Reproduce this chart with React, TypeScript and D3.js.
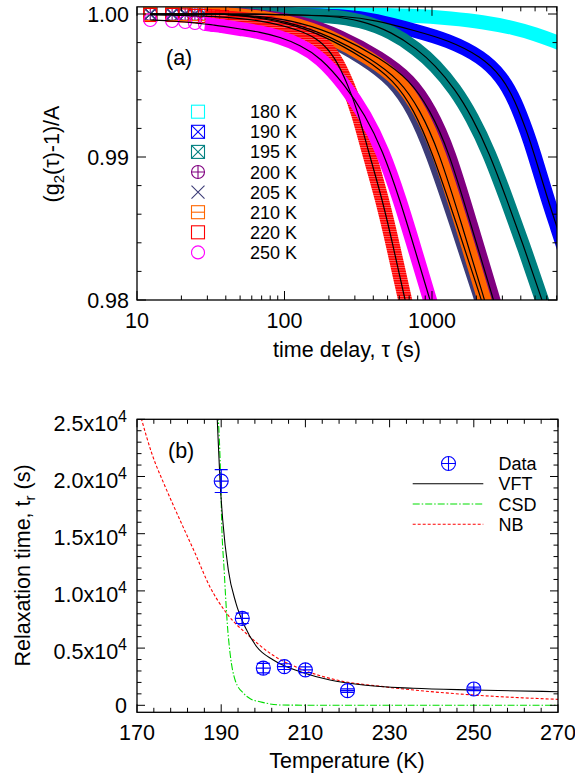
import * as d3 from 'd3';

const FONT = "'Liberation Sans', Arial, Helvetica, sans-serif";

// ---------- panel (a): normalised g2 decays ----------
const earlyTau = [12.3, 17.3, 21.2, 24.7, 28.9, 32.8, 37.7];

const tau180 = [...earlyTau, 127, 300, 767, 1367, 2173, 3654, 4992, 7040, 7974];
const g180 = [1, 1, 1, 1, 1, 1, 1, 1.0, 0.99998, 0.9999, 0.99969, 0.99946, 0.99902, 0.9986, 0.99804, 0.9978];

const tau190 = [...earlyTau, 58.4, 127.4, 257.2, 410.9, 767.2, 1284, 2173, 2969, 3654, 4476, 4838, 6115, 7040, 7974];
const g190 = [1, 1, 1, 1, 1, 1, 1, 1.0, 0.99993, 0.99986, 0.99958, 0.99883, 0.99818, 0.99701, 0.99562, 0.99399, 0.99154, 0.99049, 0.98699, 0.9851, 0.98336];

const tau195 = [...earlyTau, 58.4, 127.4, 203.5, 325, 535.6, 791.5, 1048, 1432, 1867, 2434, 3225, 4271, 5568, 6115];
const g195 = [1, 1, 1, 1, 1, 1, 1, 1.0, 0.99993, 0.99986, 0.99958, 0.99874, 0.99755, 0.99643, 0.99476, 0.9928, 0.99035, 0.98699, 0.9835, 0.98, 0.97874];

const tau200 = [...earlyTau, 68.2, 127.4, 237.8, 444.3, 709.4, 969.2, 1294, 1838, 2612, 2891];
const g200 = [1, 1, 1, 1, 1, 1, 1, 0.99986, 0.99944, 0.99846, 0.99692, 0.99538, 0.99329, 0.99049, 0.98524, 0.98, 0.97846];

const tau205 = [...earlyTau, 54.0, 100.8, 188.2, 345.9, 552.6, 755.1, 992.2, 1477, 2166, 2397];
const g205 = [1, 1, 1, 1, 1, 1, 1, 0.99986, 0.99944, 0.99846, 0.99692, 0.99538, 0.99329, 0.99049, 0.98524, 0.98, 0.97846];

const tau210 = [...earlyTau, 58.4, 109.0, 203.5, 379.9, 607, 829.4, 1107, 1597, 2269, 2552];
const g210 = [1, 1, 1, 1, 1, 1, 1, 0.99986, 0.99944, 0.99846, 0.99692, 0.99538, 0.99329, 0.99049, 0.98524, 0.98, 0.97825];

const tau220 = [...earlyTau, 68.2, 127.4, 174.1, 220.0, 269.5, 315.0, 368.3, 461.9, 552.6, 656.2, 709.4];
const g220 = [0.99993, 0.99993, 0.9999, 0.99986, 0.99986, 0.99983, 0.99979, 0.99958, 0.99888, 0.99818, 0.99699, 0.99503, 0.99315, 0.99049, 0.98699, 0.9835, 0.98, 0.9786];

const tau250 = [...earlyTau, 49.9, 68.2, 93.2, 127.4, 174.1, 257.2, 351.4, 461.9, 607, 767.2, 969.2, 1064];
const g250 = [0.99958, 0.99951, 0.99944, 0.99937, 0.9993, 0.99923, 0.99916, 0.99895, 0.99874, 0.99839, 0.99783, 0.99699, 0.99503, 0.99294, 0.99049, 0.98699, 0.9835, 0.98, 0.9786];

const seriesA = [
  { label: '180 K', color: '#00ffff', marker: 'square', tau: tau180, g: g180, fit: false },
  { label: '190 K', color: '#0000ff', marker: 'boxx', tau: tau190, g: g190, fit: true },
  { label: '195 K', color: '#008080', marker: 'boxx', tau: tau195, g: g195, fit: true },
  { label: '200 K', color: '#800080', marker: 'circplus', tau: tau200, g: g200, fit: true },
  { label: '205 K', color: '#3c3c78', marker: 'x', tau: tau205, g: g205, fit: true },
  { label: '210 K', color: '#ff6600', marker: 'boxh', tau: tau210, g: g210, fit: true },
  { label: '220 K', color: '#ff0000', marker: 'square', tau: tau220, g: g220, fit: true },
  { label: '250 K', color: '#ff00ff', marker: 'circle', tau: tau250, g: g250, fit: true },
];

const xTicksA = [10, 100, 1000];
const yTicksA = [0.98, 0.99, 1.0];

// ---------- panel (b): relaxation time vs temperature ----------
const tempData = [190, 195, 200, 205, 210, 220, 250];
const trData = [19600, 7600, 3250, 3380, 3100, 1280, 1430];
const trErr = [1000, 450, 420, 250, 250, 150, 150];

const vftT = [189.0, 189.07, 189.71, 190.36, 191.69, 193.5, 195.65, 198.43, 202.38, 209.5, 215.84, 223.75, 235.63, 250, 270];
const vftTr = [25500, 24940, 19700, 16200, 11830, 8940, 6870, 5120, 3960, 2850, 2210, 1770, 1490, 1340, 1190];

const csdT = [189.25, 189.88, 190.1, 190.7, 191.5, 192.1, 193.3, 195.3, 197, 199.2, 204, 215, 270];
const csdTr = [25500, 19700, 16200, 11830, 6870, 4570, 2210, 1050, 550, 315, 30, 0, 0];

const nbT = [171.0, 173.5, 176.7, 180.2, 183.8, 187.3, 191.3, 196.8, 201.6, 209.5, 217.4, 228.5, 249.9, 270];
const nbTr = [25100, 22030, 19110, 16200, 13290, 10370, 8040, 6000, 4550, 3090, 2210, 1630, 900, 520];

const xTicksB = [170, 190, 210, 230, 250, 270];
const yTicksB = [0, 5000, 10000, 15000, 20000, 25000];

// scales
const xA = d3.scaleLog().domain([10, 7040]).range([137, 557]);
const yA = d3.scaleLinear().domain([0.98, 1.0005]).range([300, 6.85]);
const xB = d3.scaleLinear().domain([170, 270]).range([137, 558]);
const yB = d3.scaleLinear().domain([-612, 25000]).range([712.3, 419.3]);

function Marker({ kind, x, y, color, s = 6.5 }: { kind: string; x: number; y: number; color: string; s?: number }) {
  const p = { stroke: color, strokeWidth: 1.1, fill: 'none' };
  const box = <rect x={x - s} y={y - s} width={2 * s} height={2 * s} {...p} />;
  switch (kind) {
    case 'square':
      return box;
    case 'boxx':
      return (
        <g>
          {box}
          <path d={`M${x - s},${y - s}L${x + s},${y + s}M${x - s},${y + s}L${x + s},${y - s}`} {...p} />
        </g>
      );
    case 'circplus':
      return (
        <g>
          <circle cx={x} cy={y} r={s} {...p} />
          <path d={`M${x - s},${y}H${x + s}M${x},${y - s}V${y + s}`} {...p} />
        </g>
      );
    case 'x':
      return <path d={`M${x - s},${y - s}L${x + s},${y + s}M${x - s},${y + s}L${x + s},${y - s}`} {...p} />;
    case 'boxh':
      return (
        <g>
          {box}
          <path d={`M${x - s},${y}H${x + s}`} {...p} />
        </g>
      );
    default:
      return <circle cx={x} cy={y} r={s} {...p} />;
  }
}

function TopPanel() {
  const [x0, x1] = xA.range();
  const [y0, y1] = yA.range();
  const line = d3
    .line<[number, number]>()
    .x((d) => xA(d[0]))
    .y((d) => yA(d[1]))
    .curve(d3.curveBasis);
  const minorX = xA.ticks().filter((t) => !xTicksA.includes(t));
  const minorY = d3.range(0, 11).map((i) => 0.98 + i * 0.002).filter((v) => v <= 1.0005);

  return (
    <g>
      <defs>
        <clipPath id="clipA">
          <rect x={x0} y={y1} width={x1 - x0} height={y0 - y1} />
        </clipPath>
        {/* dense open squares leave a faint hatch inside the red band */}
        <pattern id="redTex" patternUnits="userSpaceOnUse" width={4} height={2.4}>
          <rect width={4} height={2.4} fill="#ff0000" />
          <line x1={0} x2={4} y1={1.2} y2={1.2} stroke="#ff9a9a" strokeWidth={0.6} />
        </pattern>
      </defs>
      <g clipPath="url(#clipA)">
        {seriesA.map((s) => {
          const pts = s.tau.map((t, i) => [t, s.g[i]] as [number, number]);
          const stroke = s.label === '220 K' ? 'url(#redTex)' : s.color;
          return (
            <g key={s.label}>
              <path d={line(pts.slice(4)) || ''} fill="none" stroke={stroke} strokeWidth={14} />
              {pts.slice(0, 7).map((d, i) => (
                <Marker key={i} kind={s.marker} x={xA(d[0])} y={yA(d[1])} color={s.color} />
              ))}
            </g>
          );
        })}
        {seriesA
          .filter((s) => s.fit)
          .map((s) => (
            <path
              key={s.label + 'fit'}
              d={line(s.tau.map((t, i) => [t, s.g[i]] as [number, number])) || ''}
              fill="none"
              stroke="#000"
              strokeWidth={1.2}
            />
          ))}
      </g>
      {/* frame and ticks */}
      <rect x={x0} y={y1} width={x1 - x0} height={y0 - y1} fill="none" stroke="#000" strokeWidth={1.3} />
      <g stroke="#000" strokeWidth={1}>
        {xTicksA.map((t) => (
          <g key={'mx' + t}>
            <line x1={xA(t)} x2={xA(t)} y1={y0} y2={y0 - 9} />
            <line x1={xA(t)} x2={xA(t)} y1={y1} y2={y1 + 9} />
          </g>
        ))}
        {minorX.map((t) => (
          <g key={'nx' + t}>
            <line x1={xA(t)} x2={xA(t)} y1={y0} y2={y0 - 4.5} />
            <line x1={xA(t)} x2={xA(t)} y1={y1} y2={y1 + 4.5} />
          </g>
        ))}
        {minorY.map((v, i) => {
          const len = i % 5 === 0 ? 9 : 4.5;
          return (
            <g key={'ny' + i}>
              <line x1={x0} x2={x0 + len} y1={yA(v)} y2={yA(v)} />
              <line x1={x1} x2={x1 - len} y1={yA(v)} y2={yA(v)} />
            </g>
          );
        })}
      </g>
      <g fontFamily={FONT} fontSize={21.5} fill="#000">
        {yTicksA.map((v) => (
          <text key={v} x={129} y={yA(v) + 7.7} textAnchor="end">
            {d3.format('.2f')(v)}
          </text>
        ))}
        {xTicksA.map((t) => (
          <text key={t} x={xA(t)} y={328} textAnchor="middle">
            {t}
          </text>
        ))}
        <text x={347} y={357} textAnchor="middle">
          time delay, τ (s)
        </text>
        <text transform="translate(59,154) rotate(-90)" textAnchor="middle">
          (g
          <tspan fontSize={15} dy={5}>
            2
          </tspan>
          <tspan dy={-5}>(τ)-1)/A</tspan>
        </text>
        <text x={166} y={65}>
          (a)
        </text>
      </g>
      {/* legend */}
      <g fontFamily={FONT} fontSize={18}>
        {seriesA.map((s, i) => {
          const ly = 111.7 + i * 20.1;
          return (
            <g key={s.label}>
              <Marker kind={s.marker} x={198} y={ly} color={s.color} />
              <text x={250} y={ly + 6.5}>
                {s.label}
              </text>
            </g>
          );
        })}
      </g>
    </g>
  );
}

function BottomPanel() {
  const [x0, x1] = xB.range();
  const [y0, y1] = yB.range();
  const line = d3
    .line<[number, number]>()
    .x((d) => xB(d[0]))
    .y((d) => yB(d[1]))
    .curve(d3.curveMonotoneX);
  const zip = (a: number[], b: number[]) => a.map((v, i) => [v, b[i]] as [number, number]);
  const minorX = d3.range(170, 271, 4);
  const minorY = d3.range(0, 25001, 1000);

  return (
    <g>
      <defs>
        <clipPath id="clipB">
          <rect x={x0} y={y1} width={x1 - x0} height={y0 - y1} />
        </clipPath>
      </defs>
      <g clipPath="url(#clipB)" fill="none" strokeWidth={1.1}>
        <path d={line(zip(nbT, nbTr)) || ''} stroke="#ff0000" strokeDasharray="3,2" />
        <path d={line(zip(csdT, csdTr)) || ''} stroke="#00dd00" strokeDasharray="7,2,1.5,2" />
        <path d={line(zip(vftT, vftTr)) || ''} stroke="#000" />
      </g>
      {/* data with error bars */}
      <g stroke="#0000ff" strokeWidth={1.2} fill="none">
        {tempData.map((t, i) => {
          const cx = xB(t);
          const cy = yB(trData[i]);
          const ya = yB(trData[i] + trErr[i]);
          const yb = yB(trData[i] - trErr[i]);
          return (
            <g key={t}>
              <path d={`M${cx},${ya}V${yb}M${cx - 6.5},${ya}H${cx + 6.5}M${cx - 6.5},${yb}H${cx + 6.5}`} />
              <Marker kind="circplus" x={cx} y={cy} color="#0000ff" s={7} />
            </g>
          );
        })}
      </g>
      <rect x={x0} y={y1} width={x1 - x0} height={y0 - y1} fill="none" stroke="#000" strokeWidth={1.3} />
      <g stroke="#000" strokeWidth={1}>
        {minorX.map((t) => {
          const len = (t - 170) % 20 === 0 ? 8 : 4.5;
          return (
            <g key={'x' + t}>
              <line x1={xB(t)} x2={xB(t)} y1={y0} y2={y0 - len} />
              <line x1={xB(t)} x2={xB(t)} y1={y1} y2={y1 + len} />
            </g>
          );
        })}
        {minorY.map((v) => {
          const len = v % 5000 === 0 ? 8 : 4.5;
          return (
            <g key={'y' + v}>
              <line x1={x0} x2={x0 + len} y1={yB(v)} y2={yB(v)} />
              <line x1={x1} x2={x1 - len} y1={yB(v)} y2={yB(v)} />
            </g>
          );
        })}
      </g>
      <g fontFamily={FONT} fontSize={21.5} fill="#000">
        {yTicksB.map((v) =>
          v === 0 ? (
            <text key={v} x={127} y={yB(v) + 7.7} textAnchor="end">
              0
            </text>
          ) : (
            <text key={v} x={127} y={yB(v) + 11.4} textAnchor="end">
              {(v / 1e4).toFixed(1)}x10
              <tspan fontSize={16} dy={-9}>
                4
              </tspan>
            </text>
          )
        )}
        {xTicksB.map((t) => (
          <text key={t} x={xB(t)} y={739.5} textAnchor="middle">
            {t}
          </text>
        ))}
        <text x={347} y={768} textAnchor="middle">
          Temperature (K)
        </text>
        <text transform="translate(29.5,565.5) rotate(-90)" textAnchor="middle">
          Relaxation time, t
          <tspan fontSize={15} dy={5}>
            r
          </tspan>
          <tspan dy={-5}> (s)</tspan>
        </text>
        <text x={168} y={458}>
          (b)
        </text>
      </g>
      {/* legend */}
      <g fontFamily={FONT} fontSize={18}>
        <Marker kind="circplus" x={448.5} y={463.5} color="#0000ff" s={7} />
        <text x={498.5} y={470}>
          Data
        </text>
        <line x1={412.7} x2={483.3} y1={483.8} y2={483.8} stroke="#000" strokeWidth={1.1} />
        <text x={498.5} y={490.3}>
          VFT
        </text>
        <line x1={412.7} x2={483.3} y1={504} y2={504} stroke="#00dd00" strokeWidth={1.1} strokeDasharray="7,2,1.5,2" />
        <text x={498.5} y={510.5}>
          CSD
        </text>
        <line x1={412.7} x2={483.3} y1={524.3} y2={524.3} stroke="#ff0000" strokeWidth={1.1} strokeDasharray="3,2" />
        <text x={498.5} y={530.8}>
          NB
        </text>
      </g>
    </g>
  );
}

export default function App() {
  return (
    <svg
      width={575}
      height={782}
      viewBox="0 0 575 782"
      style={{ position: 'absolute', left: 0, top: 0, background: '#fff' }}
    >
      <TopPanel />
      <BottomPanel />
    </svg>
  );
}
